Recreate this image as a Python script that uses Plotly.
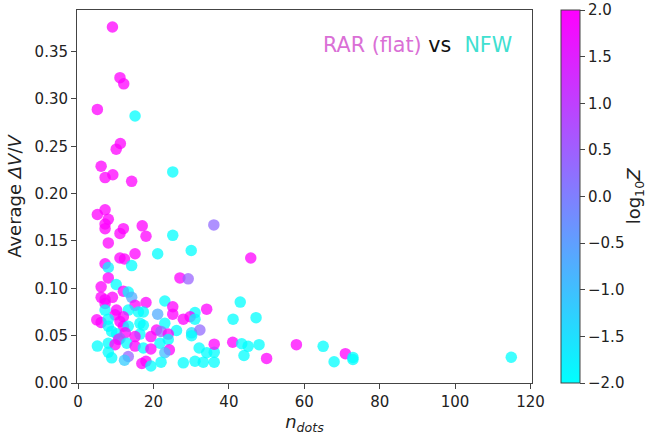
import plotly.graph_objects as go

# n_dots
x_vals = [9.1, 11.1, 12.1, 5.1, 15.1, 11.2, 10.1, 6.1, 9.2, 7.15,
          14.2, 25.1, 5.1, 7.15, 8.0, 7.15, 7.15, 12.0, 11.1, 17.0,
          18.0, 36.0, 25.1, 8.0, 21.1, 30.0, 15.1, 11.1, 12.3, 45.8,
          7.15, 8.0, 14.2, 8.0, 27.0, 29.2, 10.1, 6.1, 12.0, 13.3,
          14.2, 6.1, 7.15, 9.1, 7.15, 18.0, 23.0, 15.1, 7.15, 10.2,
          13.3, 16.0, 17.3, 25.1, 25.1, 21.1, 31.0, 34.1, 43.0, 9.8,
          12.0, 4.95, 6.1, 8.0, 41.1, 47.2, 27.9, 29.7, 31.0, 16.4,
          17.3, 8.0, 11.1, 12.0, 13.3, 23.0, 26.1, 20.8, 22.0, 23.9,
          30.1, 32.3, 8.9, 10.2, 12.5, 16.4, 19.3, 15.1, 10.7, 11.1,
          21.7, 23.9, 12.9, 15.1, 17.3, 5.1, 8.0, 9.8, 19.3, 24.2,
          23.0, 8.0, 8.9, 13.3, 12.3, 16.9, 18.0, 19.3, 22.0, 27.9,
          31.0, 33.2, 36.1, 32.1, 34.1, 36.1, 36.1, 41.0, 43.4, 45.1,
          44.0, 48.0, 50.0, 57.9, 65.0, 70.9, 67.9, 72.9, 72.9, 114.9,
          30.1]
# Average dV/V
y_vals = [0.376, 0.3225, 0.316, 0.289, 0.282, 0.253, 0.247, 0.229, 0.220, 0.217,
          0.213, 0.223, 0.178, 0.183, 0.173, 0.168, 0.163, 0.163, 0.158, 0.166,
          0.155, 0.167, 0.156, 0.148, 0.1365, 0.140, 0.1365, 0.132, 0.131, 0.132,
          0.126, 0.122, 0.124, 0.111, 0.111, 0.110, 0.104, 0.1016, 0.097, 0.096,
          0.0905, 0.0905, 0.088, 0.0905, 0.084, 0.085, 0.0866, 0.082, 0.077, 0.077,
          0.077, 0.075, 0.075, 0.0806, 0.0727, 0.0727, 0.0744, 0.078, 0.0855, 0.072,
          0.070, 0.0667, 0.064, 0.0674, 0.0674, 0.069, 0.0674, 0.070, 0.0674, 0.063,
          0.061, 0.060, 0.065, 0.060, 0.060, 0.063, 0.0555, 0.056, 0.0545, 0.0517,
          0.053, 0.056, 0.0545, 0.052, 0.053, 0.0517, 0.049, 0.049, 0.046, 0.047,
          0.042, 0.046, 0.042, 0.039, 0.037, 0.039, 0.042, 0.0405, 0.036, 0.035,
          0.032, 0.0325, 0.0266, 0.028, 0.024, 0.0206, 0.023, 0.018, 0.022, 0.0213,
          0.023, 0.022, 0.022, 0.037, 0.032, 0.0325, 0.041, 0.043, 0.0415, 0.0387,
          0.029, 0.0405, 0.026, 0.0405, 0.0387, 0.031, 0.0224, 0.0248, 0.027, 0.0272,
          0.050]
# log10 Z
logz_vals = [2, 2, 2, 2, -2, 2, 2, 2, 2, 2,
             2, -2, 2, 2, 2, 2, 2, 2, 2, 2,
             2, 0.3, -2, 2, -2, -2, 2, 2, 2, 2,
             2, -1.8, -2, 2, 2, 0.4, -2, 2, 2, -2,
             -0.7, 2, 2, 2, 2, 2, -2, 2, -2, 2,
             -2, -2, -2, 2, 2, -0.7, -2, 2, -2, 2,
             2, 2, 2, -2, -2, -2, 2, 2, -2, -2,
             -2, -2, 2, 2, -2, -2, -2, 2, 0.3, 2,
             -1.5, 0.3, -2, -2, 2, -2, 2, 2, 2, 0.5,
             -2, -2, -2, 2, -2, -2, -2, 2, 2, 2,
             -1.0, -2, -2, 0.4, -1.2, 2, 2, -2, -2, -2,
             -2, -2, -2, -2, -2, -2, 2, 2, -2, -2,
             -2, -2, 2, 2, -2, 2, -2, -2, -2, -2,
             -2]

x_ticks = [0, 20, 40, 60, 80, 100, 120]
y_ticks = [0.00, 0.05, 0.10, 0.15, 0.20, 0.25, 0.30, 0.35]
cb_ticks = [-2.0, -1.5, -1.0, -0.5, 0.0, 0.5, 1.0, 1.5, 2.0]

FONT = "DejaVu Sans"
AX = "#444444"

fig = go.Figure(go.Scatter(
    x=x_vals, y=y_vals, mode="markers",
    marker=dict(
        size=11.5, color=logz_vals, cmin=-2, cmax=2,
        colorscale=[[0, "rgb(0,255,255)"], [1, "rgb(255,0,255)"]],
        opacity=0.75, line=dict(width=0),
        colorbar=dict(
            x=1.063, xanchor="left", y=0.5, yanchor="middle",
            len=1, lenmode="fraction", thickness=19,
            xpad=0, ypad=0,
            outlinecolor=AX, outlinewidth=1,
            ticks="outside", ticklen=5, tickcolor=AX, tickwidth=1,
            tickvals=cb_ticks, tickformat=".1f",
            tickfont=dict(family=FONT, size=15, color="#222"),
        ),
    ),
    showlegend=False,
))

fig.add_annotation(
    xref="paper", yref="paper", x=0.748, y=0.907,
    xanchor="center", yanchor="middle", showarrow=False,
    text="<span style='color:#DA70D6'>RAR (flat)</span> "
         "<span style='color:#111'>vs</span>  "
         "<span style='color:#40E0D0'>NFW</span>",
    font=dict(family=FONT, size=20.7),
)

fig.add_annotation(
    xref="paper", yref="paper", x=1.226, y=0.5,
    xanchor="center", yanchor="middle", showarrow=False,
    textangle=-90,
    text="log<sub>10</sub><i>Z</i>",
    font=dict(family=FONT, size=18, color="#222"),
)

fig.update_layout(
    width=650, height=435,
    margin=dict(l=77, r=118, t=9, b=50),
    paper_bgcolor="white", plot_bgcolor="white",
    font=dict(family=FONT, color="#222"),
)
fig.update_xaxes(
    range=[-0.3, 120.4], tickvals=x_ticks,
    showgrid=False, zeroline=False,
    showline=True, linecolor=AX, linewidth=1, mirror=True,
    ticks="outside", ticklen=5, tickcolor=AX,
    tickfont=dict(family=FONT, size=15, color="#222"),
    title=dict(text="<i>n</i><sub><i>dots</i></sub>", standoff=2,
               font=dict(family=FONT, size=18, color="#222")),
)
fig.update_yaxes(
    range=[0, 0.394], tickvals=y_ticks, tickformat=".2f",
    showgrid=False, zeroline=False,
    showline=True, linecolor=AX, linewidth=1, mirror=True,
    ticks="outside", ticklen=5, tickcolor=AX,
    tickfont=dict(family=FONT, size=15, color="#222"),
    title=dict(text="Average <i>ΔV</i>/<i>V</i>", standoff=8,
               font=dict(family=FONT, size=18, color="#222")),
)

fig.write_html("out.html")
